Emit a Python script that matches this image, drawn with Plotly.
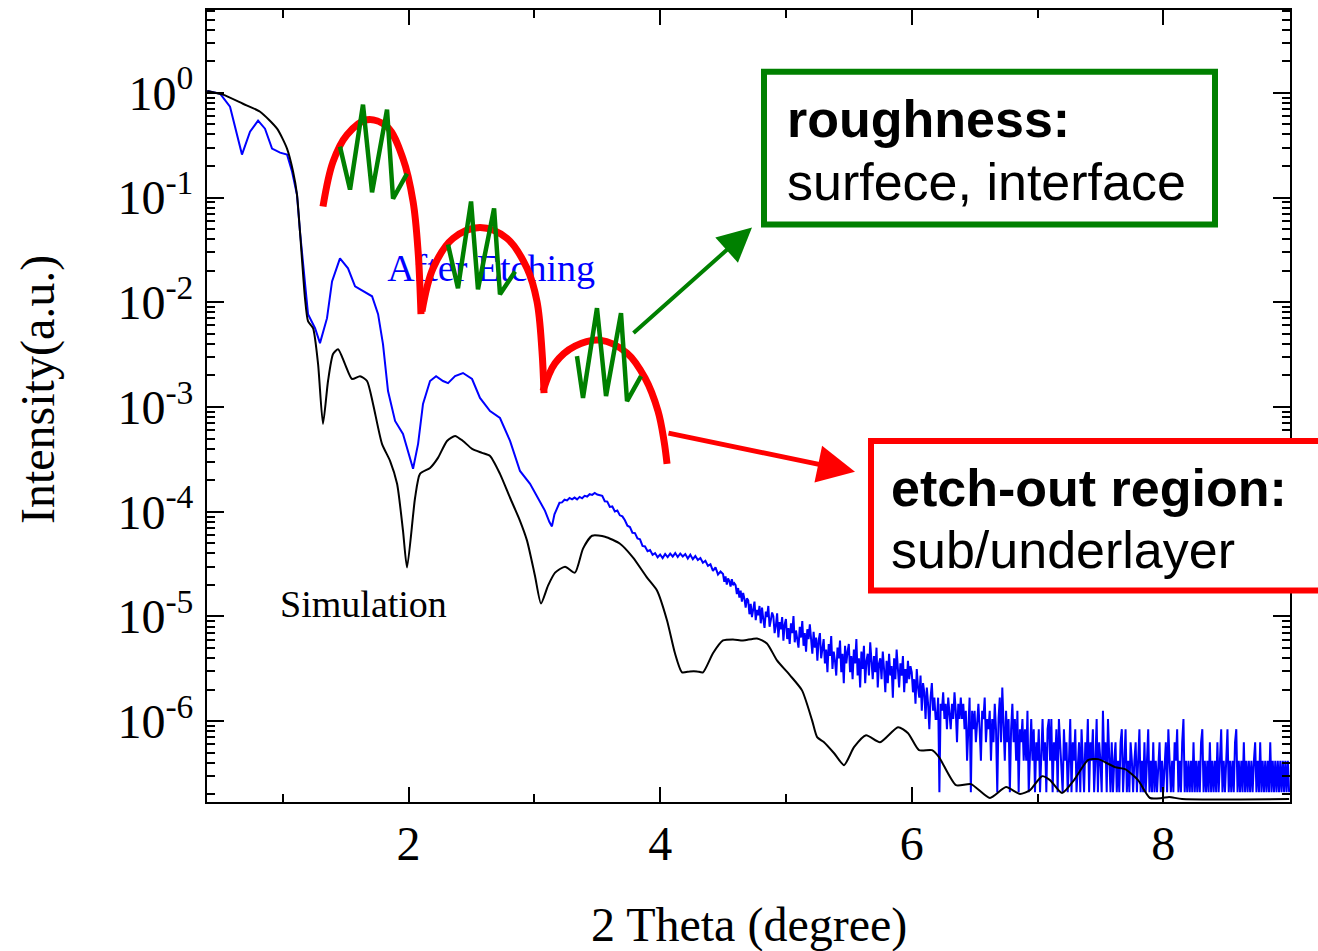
import numpy as np
import plotly.graph_objects as go

# ---------------- data ----------------
# Simulation (black)
sim_x = [0.40, 0.525, 0.684, 0.820, 0.955, 1.034, 1.082, 1.113, 1.137, 1.177,
         1.201, 1.241, 1.281, 1.320, 1.360, 1.400, 1.440, 1.495, 1.551, 1.614,
         1.670, 1.718, 1.789, 1.853, 1.909, 1.956, 1.988, 2.052, 2.091, 2.171,
         2.234, 2.306, 2.370, 2.433, 2.505, 2.584, 2.648, 2.727, 2.807, 2.886,
         2.942, 3.005, 3.053, 3.109, 3.165, 3.244, 3.323, 3.387, 3.459, 3.562,
         3.681, 3.785, 3.896, 3.975, 4.055, 4.118, 4.174, 4.237, 4.293, 4.341,
         4.420, 4.500, 4.579, 4.659, 4.770, 4.849, 4.929, 5.033, 5.128, 5.208,
         5.248, 5.303, 5.383, 5.462, 5.541, 5.637, 5.748, 5.891, 5.971, 6.058,
         6.161, 6.217, 6.352, 6.471, 6.622, 6.750, 6.861, 6.940, 7.036, 7.099,
         7.195, 7.290, 7.401, 7.481, 7.616, 7.696, 7.799, 7.894, 7.990, 8.046,
         8.149, 9.00]
sim_y = [1.04, 0.96, 0.785, 0.659, 0.454, 0.293, 0.177, 0.107, 0.0474, 0.0109,
         6.59e-3, 5.65e-3, 2.57e-3, 6.89e-4, 1.77e-3, 3.20e-3, 3.56e-3, 2.57e-3, 1.85e-3, 1.97e-3,
         1.77e-3, 1.07e-3, 4.45e-4, 3.06e-4, 1.85e-4, 6.59e-5, 2.93e-5, 1.36e-4, 2.30e-4, 2.62e-4,
         3.27e-4, 4.74e-4, 5.30e-4, 4.74e-4, 3.98e-4, 3.65e-4, 3.41e-4, 2.30e-4, 1.36e-4, 8.20e-5,
         5.30e-5, 2.45e-5, 1.33e-5, 1.97e-5, 2.62e-5, 2.99e-5, 2.62e-5, 4.45e-5, 5.90e-5, 5.78e-5,
         4.95e-5, 3.65e-5, 2.35e-5, 1.77e-5, 9.16e-6, 4.45e-6, 2.93e-6, 2.99e-6, 2.99e-6, 2.93e-6,
         4.45e-6, 5.90e-6, 6.04e-6, 5.90e-6, 6.17e-6, 5.53e-6, 3.81e-6, 2.74e-6, 1.97e-6, 1.02e-6,
         7.05e-7, 6.31e-7, 4.95e-7, 3.81e-7, 5.65e-7, 7.36e-7, 6.31e-7, 8.77e-7, 7.69e-7, 5.30e-7,
         5.30e-7, 4.54e-7, 2.45e-7, 2.51e-7, 1.85e-7, 2.35e-7, 2.02e-7, 2.20e-7, 2.99e-7, 2.74e-7,
         2.06e-7, 2.74e-7, 4.26e-7, 4.35e-7, 3.65e-7, 3.49e-7, 2.74e-7, 1.85e-7, 1.85e-7, 1.89e-7,
         1.81e-7, 1.81e-7]

# After Etching (blue) - smooth low-angle part
etch_x = [0.40, 0.502, 0.581, 0.676, 0.740, 0.804, 0.859, 0.915, 0.979, 1.034,
          1.074, 1.113, 1.137, 1.201, 1.257, 1.296, 1.352, 1.392, 1.455, 1.519,
          1.575, 1.638, 1.710, 1.758, 1.797, 1.837, 1.893, 1.956, 1.996, 2.036,
          2.076, 2.115, 2.171, 2.219, 2.274, 2.314, 2.370, 2.433, 2.505, 2.568,
          2.648, 2.727, 2.807, 2.886, 2.966, 3.029, 3.085]
etch_y = [1.04, 0.98, 0.736, 0.257, 0.425, 0.541, 0.454, 0.293, 0.268, 0.257,
          0.177, 0.107, 0.0474, 7.69e-3, 5.65e-3, 4.07e-3, 7.05e-3, 1.58e-2, 2.62e-2, 2.11e-2,
          1.42e-2, 1.27e-2, 1.14e-2, 7.69e-3, 3.98e-3, 1.42e-3, 7.36e-4, 5.53e-4, 3.81e-4, 2.57e-4,
          4.45e-4, 1.07e-3, 1.77e-3, 1.97e-3, 1.77e-3, 1.69e-3, 1.97e-3, 2.11e-3, 1.85e-3, 1.22e-3,
          9.16e-4, 7.85e-4, 4.74e-4, 2.45e-4, 1.85e-4, 1.36e-4, 1.02e-4]

# After Etching (blue) - noisy part, as detector counts
count_unit = 2.1e-7    # intensity of one count (lowest level in the plot)

counts_a_start, counts_a_step = 3.12, 0.02
counts_a = [
    380, 345, 450, 505, 580, 585, 620, 610, 645, 625,
    650, 625, 660, 640, 675, 665, 700, 690, 720, 695,
    690, 675, 600, 595, 530, 535, 480, 490, 440, 430,
    395, 350, 340, 300, 298, 265, 260, 225, 222, 200,
    205, 185, 192, 175, 186, 172, 188, 176, 190, 178,
    192, 176, 190, 178, 188, 170, 185, 168, 180, 165,
    172, 155, 162, 145, 150, 130, 140, 120, 128,
]

counts_b_start, counts_b_step = 4.50, 0.01
counts_b = [
    121, 102, 115, 96, 110, 104, 92, 108, 95, 99,
    95, 78, 89, 72, 84, 66, 80, 70, 58, 71,
    68, 50, 63, 47, 58, 66, 44, 55, 49, 60,
    41, 58, 45, 37, 53, 47, 60, 38, 44, 52,
    48, 33, 39, 51, 30, 42, 36, 47, 28, 40,
    45, 29, 37, 26, 41, 33, 48, 27, 35, 30,
    24, 38, 30, 43, 25, 33, 22, 36, 29, 40,
    27, 21, 34, 24, 30, 18, 28, 33, 19, 25,
    29, 17, 23, 14, 26, 20, 31, 15, 22, 18,
    13, 24, 19, 28, 14, 21, 11, 25, 17, 22,
    26, 14, 20, 12, 23, 17, 29, 13, 19, 10,
    22, 15, 25, 11, 18, 21, 13, 27, 16, 12,
    20, 14, 24, 10, 17, 19, 12, 22, 15, 9,
    18, 11, 21, 13, 16, 8, 19, 12, 23, 14,
    10, 17, 13, 20, 9, 15, 11, 18, 12, 16,
    14, 9, 12, 7, 15, 10, 8, 13, 6, 11,
    9, 5, 10, 7, 4, 8, 11, 6, 8, 5,
    5, 8, 1, 7, 6, 9, 5, 7, 4, 8,
    6, 4, 7, 5, 9, 6, 3, 7, 5, 8,
    5, 7, 4, 6, 2, 5, 8, 1, 6, 4,
    6, 3, 5, 7, 4, 2, 6, 5, 8, 3,
    5, 4, 6, 2, 5, 3, 7, 4, 1, 5,
    8, 3, 10, 4, 2, 6, 3, 5, 1, 4,
    7, 3, 5, 2, 6, 1, 4, 3, 5, 2,
    4, 2, 6, 1, 3, 5, 2, 4, 1, 3,
    2, 4, 1, 3, 5, 2, 3, 1, 4, 5,
    2, 5, 1, 3, 2, 4, 1, 5, 3, 2,
    1, 4, 2, 3, 1, 2, 5, 1, 3, 2,
    4, 1, 2, 3, 1, 4, 2, 1, 3, 2,
    5, 1, 3, 2, 4, 1, 2, 5, 1, 3,
    2, 1, 6, 2, 3, 1, 5, 2, 1, 3,
    1, 2, 3, 1, 2, 1, 3, 4, 1, 2,
    4, 1, 2, 1, 3, 2, 1, 2, 3, 1,
    2, 4, 1, 2, 1, 3, 1, 2, 4, 1,
    2, 1, 3, 1, 2, 1, 2, 3, 1, 2,
    1, 2, 3, 1, 4, 2, 1, 2, 1, 3,
    2, 4, 1, 2, 1, 3, 5, 1, 2, 1,
    2, 1, 2, 1, 3, 1, 2, 1, 2, 1,
    3, 4, 1, 2, 1, 2, 1, 3, 1, 2,
    1, 2, 1, 3, 1, 2, 4, 1, 2, 1,
    2, 4, 1, 2, 1, 2, 1, 3, 4, 1,
    2, 1, 2, 1, 3, 1, 2, 1, 2, 1,
    2, 1, 2, 3, 1, 2, 1, 3, 1, 2,
    1, 2, 1, 2, 1, 3, 1, 2, 1, 2,
    1, 2, 1, 2, 1, 2, 1, 2, 1, 2, 1,
]

# Illustrative "etch-out region" envelopes (red) and "roughness" zigzags (green)
arc1_x = [1.320, 1.400, 1.511, 1.670, 1.829, 1.956, 2.036, 2.076, 2.099]
arc1_y = [8.20e-2, 0.220, 0.398, 0.553, 0.474, 0.235, 9.16e-2, 3.06e-2, 7.69e-3]
arc2_x = [2.107, 2.195, 2.354, 2.568, 2.783, 2.942, 3.021, 3.061, 3.077]
arc2_y = [8.20e-3, 2.11e-2, 4.07e-2, 5.18e-2, 4.07e-2, 2.11e-2, 1.02e-2, 3.41e-3, 1.36e-3]
arc3_x = [3.069, 3.165, 3.323, 3.522, 3.737, 3.880, 3.983, 4.031, 4.055]
arc3_y = [1.42e-3, 2.62e-3, 3.81e-3, 4.35e-3, 3.27e-3, 1.89e-3, 9.16e-4, 4.74e-4, 2.86e-4]

zig1_x = [1.455, 1.535, 1.638, 1.710, 1.829, 1.877, 1.988]
zig1_y = [0.306, 0.119, 0.769, 0.112, 0.689, 9.77e-2, 0.169]
zig2_x = [2.314, 2.393, 2.497, 2.552, 2.680, 2.727, 2.847]
zig2_y = [3.56e-2, 1.36e-2, 9.16e-2, 1.33e-2, 7.85e-2, 1.19e-2, 1.97e-2]
zig3_x = [3.339, 3.387, 3.498, 3.570, 3.689, 3.737, 3.848]
zig3_y = [3.06e-3, 1.22e-3, 8.77e-3, 1.27e-3, 7.85e-3, 1.14e-3, 1.97e-3]

y_tick_vals = [1e0, 1e-1, 1e-2, 1e-3, 1e-4, 1e-5, 1e-6]
y_tick_text = ["10<sup>0</sup>", "10<sup>-1</sup>", "10<sup>-2</sup>", "10<sup>-3</sup>",
               "10<sup>-4</sup>", "10<sup>-5</sup>", "10<sup>-6</sup>"]
x_tick_vals = [2, 4, 6, 8]

# ---------------- build ----------------
xa = list(np.round(counts_a_start + counts_a_step * np.arange(len(counts_a)), 3))
xb = list(np.round(counts_b_start + counts_b_step * np.arange(len(counts_b)), 3))
blue_x = etch_x + xa + xb
blue_y = etch_y + [c * count_unit for c in counts_a] + [c * count_unit for c in counts_b]

BLUE = "#0000ff"
RED = "#ff0000"
GREEN = "#008000"
SERIF = "Liberation Serif"
SANS = "Liberation Sans"

fig = go.Figure()
fig.add_trace(go.Scatter(x=blue_x, y=blue_y, mode="lines",
                         line=dict(color=BLUE, width=2), name="After Etching"))
fig.add_trace(go.Scatter(x=sim_x, y=sim_y, mode="lines",
                         line=dict(color="black", width=2, shape="spline", smoothing=0.6),
                         name="Simulation"))

fig.add_trace(go.Scatter(x=[1.83], y=[1.97e-2], mode="text", text=["After Etching"],
                         textposition="middle right",
                         textfont=dict(family=SERIF, size=38, color=BLUE)))
fig.add_trace(go.Scatter(x=[0.979], y=[1.22e-5], mode="text", text=["Simulation"],
                         textposition="middle right",
                         textfont=dict(family=SERIF, size=38, color="black")))

for ax_, ay_ in [(arc1_x, arc1_y), (arc2_x, arc2_y), (arc3_x, arc3_y)]:
    fig.add_trace(go.Scatter(x=ax_, y=ay_, mode="lines",
                             line=dict(color=RED, width=7, shape="spline", smoothing=1.0)))
for zx, zy in [(zig1_x, zig1_y), (zig2_x, zig2_y), (zig3_x, zig3_y)]:
    fig.add_trace(go.Scatter(x=zx, y=zy, mode="lines", line=dict(color=GREEN, width=4.5)))

# plot area geometry (pixels)
L, R, T, B = 207, 1290, 8, 802
W, H = 1318, 951


def px(xp):
    return (xp - L) / (R - L)


def py(yp):
    return (B - yp) / (B - T)


minor_y = [m * 10.0 ** e for e in range(-7, 1) for m in range(2, 10)]

axis_common = dict(showline=True, linewidth=2, linecolor="black", mirror="allticks",
                   ticks="inside", tickwidth=2, tickcolor="black", showgrid=False,
                   zeroline=False, tickfont=dict(family=SERIF, size=48, color="black"))

fig.update_layout(
    width=W, height=H,
    margin=dict(l=L, r=W - R, t=T, b=H - B),
    paper_bgcolor="white", plot_bgcolor="white",
    showlegend=False,
    xaxis=dict(range=[0.398, 9.007], tickmode="array", tickvals=x_tick_vals,
               ticklen=15, ticklabelstandoff=-2,
               minor=dict(tickmode="array", tickvals=[1, 3, 5, 7], ticks="inside",
                          ticklen=8, tickwidth=2, tickcolor="black", showgrid=False),
               **axis_common),
    yaxis=dict(type="log", range=[-6.771, 0.790], tickmode="array",
               tickvals=y_tick_vals, ticktext=y_tick_text, ticklen=17,
               ticklabelstandoff=2,
               minor=dict(tickmode="array", tickvals=minor_y, ticks="inside",
                          ticklen=8, tickwidth=2, tickcolor="black", showgrid=False),
               **axis_common),
)

# boxes
fig.add_shape(type="rect", xref="paper", yref="paper",
              x0=px(764), x1=px(1215), y0=py(223), y1=py(70),
              line=dict(color=GREEN, width=6), fillcolor="white", layer="above")
fig.add_shape(type="rect", xref="paper", yref="paper",
              x0=px(871), x1=px(1340), y0=py(590), y1=py(440),
              line=dict(color=RED, width=6), fillcolor="white", layer="above")

ann = []
ann.append(dict(text="<b>roughness:</b>", x=px(785), y=py(117), xanchor="left", yanchor="middle"))
ann.append(dict(text="surfece, interface", x=px(785), y=py(180), xanchor="left", yanchor="middle"))
ann.append(dict(text="<b>etch-out region:</b>", x=px(889), y=py(487), xanchor="left", yanchor="middle"))
ann.append(dict(text="sub/underlayer", x=px(889), y=py(549), xanchor="left", yanchor="middle"))
for a in ann:
    fig.add_annotation(xref="paper", yref="paper", showarrow=False,
                       font=dict(family=SANS, size=52, color="black"), **a)

# arrows
fig.add_annotation(xref="paper", yref="paper", x=px(752), y=py(226), ax=632 - 752, ay=333 - 226,
                   text="", showarrow=True, arrowhead=2, arrowsize=1.7, arrowwidth=4,
                   arrowcolor=GREEN)
fig.add_annotation(xref="paper", yref="paper", x=px(855), y=py(471), ax=667 - 855, ay=432 - 471,
                   text="", showarrow=True, arrowhead=2, arrowsize=1.5, arrowwidth=5,
                   arrowcolor=RED)

# axis titles
fig.add_annotation(xref="paper", yref="paper", x=0.5, y=py(925), text="2 Theta (degree)",
                   showarrow=False, xanchor="center", yanchor="middle",
                   font=dict(family=SERIF, size=48, color="black"))
fig.add_annotation(xref="paper", yref="paper", x=px(38), y=py(389), text="Intensity(a.u.)",
                   textangle=-90, showarrow=False, xanchor="center", yanchor="middle",
                   font=dict(family=SERIF, size=48, color="black"))

fig.write_html("out.html", config={"displayModeBar": False},
               post_script="document.body.style.margin='0';document.body.style.padding='0';")
